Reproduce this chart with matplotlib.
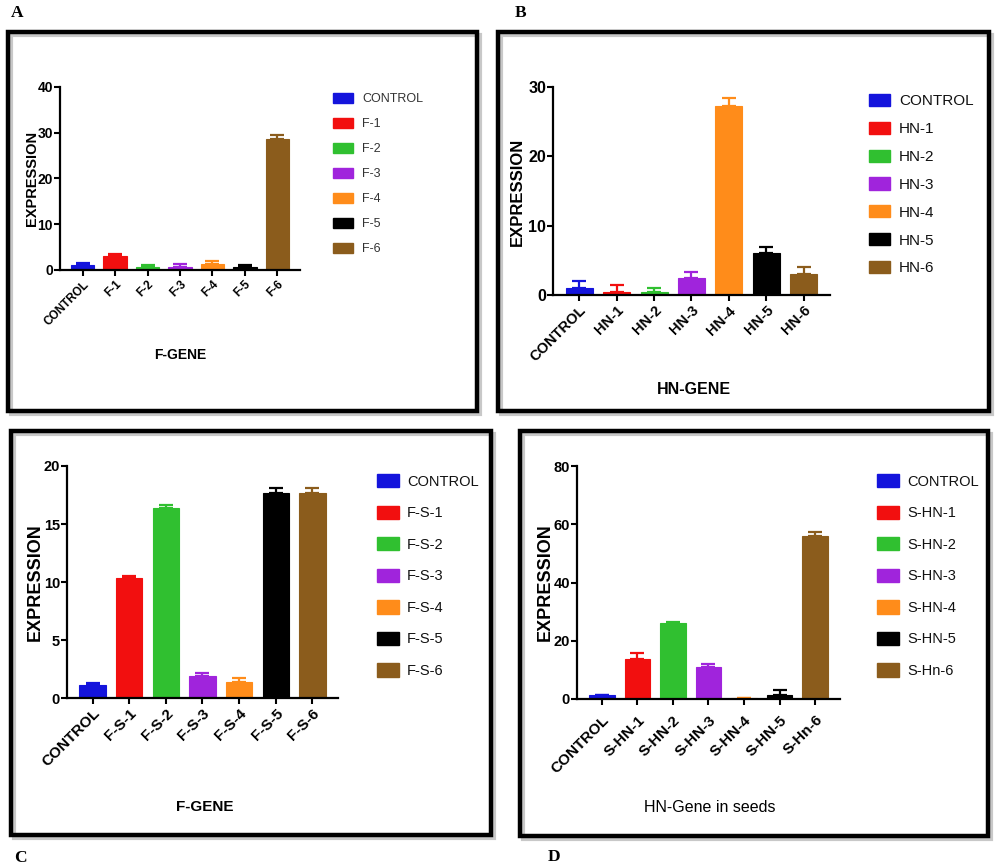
import matplotlib
matplotlib.use("Agg")
import matplotlib.pyplot as plt
from matplotlib.patches import Rectangle, Patch

W, H = 1004, 866
SANS = ['Liberation Sans', 'DejaVu Sans']

colors = ['#1414dc', '#f20f0f', '#30c030', '#a024dc', '#ff8c1a', '#000000', '#8b5c1c']

# panel A - F gene
a_labels = ['CONTROL', 'F-1', 'F-2', 'F-3', 'F-4', 'F-5', 'F-6']
a_vals = [1.1, 3.0, 0.7, 0.7, 1.3, 0.7, 28.7]
a_err = [0.5, 0.5, 0.4, 0.6, 0.6, 0.5, 0.9]

# panel B - HN gene
b_labels = ['CONTROL', 'HN-1', 'HN-2', 'HN-3', 'HN-4', 'HN-5', 'HN-6']
b_vals = [1.05, 0.4, 0.5, 2.45, 27.2, 6.0, 3.0]
b_err = [1.0, 1.0, 0.55, 0.8, 1.2, 0.9, 1.0]

# panel C - F gene in seeds
c_labels = ['CONTROL', 'F-S-1', 'F-S-2', 'F-S-3', 'F-S-4', 'F-S-5', 'F-S-6']
c_vals = [1.1, 10.35, 16.4, 1.87, 1.35, 17.7, 17.7]
c_err = [0.2, 0.15, 0.2, 0.25, 0.4, 0.38, 0.38]

# panel D - HN gene in seeds
d_labels = ['CONTROL', 'S-HN-1', 'S-HN-2', 'S-HN-3', 'S-HN-4', 'S-HN-5', 'S-Hn-6']
d_vals = [1.3, 13.9, 26.1, 11.1, 0.35, 1.3, 55.8]
d_err = [0.1, 1.9, 0.2, 0.9, 0.05, 1.7, 1.7]

fig = plt.figure(figsize=(W / 100, H / 100), dpi=100)


def frame(l, t, r, b):
    # gray drop shadow, then black border
    fig.patches.append(Rectangle((l / W + 3 / W, 1 - b / H - 3 / H), (r - l) / W, (b - t) / H,
                                 transform=fig.transFigure, fill=False, lw=3, ec='#c8c8c8', zorder=0))
    fig.patches.append(Rectangle((l / W, 1 - b / H), (r - l) / W, (b - t) / H,
                                 transform=fig.transFigure, fill=False, lw=3.2, ec='black', zorder=1))


def panel(box, labels, vals, err, ymax, ystep, xlabel, xlab_pos, ylab_pos,
          xtick_fs, ytick_fs, ylab_fs, xlab_fs, leg_fs, leg_pos, leg_space, leg_hl, leg_hh, leg_pad,
          xlab_weight='bold', leg_color='#111111', tick_pad=2, width=0.72):
    l, t, r, b = box
    ax = fig.add_axes([l / W, 1 - b / H, (r - l) / W, (b - t) / H])
    x = list(range(len(vals)))
    ax.bar(x, vals, width=width, color=colors, edgecolor=colors, lw=0.8, zorder=2)
    for i in x:
        ax.errorbar(i, vals[i], yerr=[[0], [err[i]]], fmt='none', ecolor=colors[i],
                    elinewidth=1.6, capsize=width * 7, capthick=1.6, zorder=1, clip_on=False)
    ax.set_xlim(-0.7, len(vals) - 0.3)
    ax.set_ylim(0, ymax)
    ax.set_yticks(range(0, ymax + 1, ystep))
    ax.set_xticks(x)
    ax.set_xticklabels(labels, rotation=45, ha='right', rotation_mode='anchor',
                       fontsize=xtick_fs, fontweight='bold', family=SANS)
    for lab in ax.get_yticklabels():
        lab.set_fontsize(ytick_fs)
        lab.set_fontweight('bold')
        lab.set_family(SANS)
    for s in ['top', 'right']:
        ax.spines[s].set_visible(False)
    for s in ['left', 'bottom']:
        ax.spines[s].set_linewidth(1.6)
    ax.tick_params(length=4, width=1.5)
    ax.tick_params(axis='y', pad=1)
    ax.tick_params(axis='x', pad=tick_pad)
    ax.set_facecolor('none')
    fig.text(ylab_pos[0] / W, 1 - ylab_pos[1] / H, 'EXPRESSION', rotation=90, ha='center', va='center',
             fontsize=ylab_fs, fontweight='bold', family=SANS)
    fig.text(xlab_pos[0] / W, 1 - xlab_pos[1] / H, xlabel, ha='center', va='center',
             fontsize=xlab_fs, fontweight=xlab_weight, family=SANS)
    handles = [Patch(facecolor=c, edgecolor=c) for c in colors]
    leg = ax.legend(handles, labels, loc='upper left', bbox_to_anchor=(leg_pos[0] / W, 1 - leg_pos[1] / H),
                    bbox_transform=fig.transFigure, frameon=False, prop={'family': SANS, 'size': leg_fs},
                    labelspacing=leg_space, handlelength=leg_hl, handleheight=leg_hh,
                    handletextpad=leg_pad, borderpad=0, borderaxespad=0)
    for txt in leg.get_texts():
        txt.set_color(leg_color)
    return ax


# frames
frame(8, 32, 477, 411)
frame(498, 32, 989, 411)
frame(11, 431, 491, 835)
frame(520, 431, 988, 836)

panel((60, 87, 300, 270), a_labels, a_vals, a_err, 40, 10, 'F-GENE', (180, 355), (32, 178),
      8.5, 10, 10.5, 10, 9, (333, 93), 1.0, 1.6, 0.88, 0.72, leg_color='#333333')
panel((553, 87, 830, 295), b_labels, b_vals, b_err, 30, 10, 'HN-GENE', (694, 390), (517, 192),
      10.5, 11.5, 12, 11.5, 11, (869, 94), 0.88, 1.37, 0.85, 0.6)
panel((67, 466, 338, 698), c_labels, c_vals, c_err, 20, 5, 'F-GENE', (205, 807), (35, 582),
      11, 10.5, 13, 11, 10.5, (377, 474), 1.16, 1.5, 1.03, 0.55)
panel((577, 466, 840, 699), d_labels, d_vals, d_err, 80, 20, 'HN-Gene in seeds', (710, 807), (545, 582),
      11, 10.5, 13, 11.5, 10.5, (877, 474), 1.16, 1.5, 1.03, 0.55, xlab_weight='normal', tick_pad=6)

# panel letters
for lt, (px, py) in zip('ABCD', [(17, 13), (521, 13), (20, 858), (554, 857)]):
    fig.text(px / W, 1 - py / H, lt, ha='center', va='center', fontsize=12.5, fontweight='bold',
             family=['Liberation Serif', 'DejaVu Serif'])

fig.savefig('out.png', dpi=100)
